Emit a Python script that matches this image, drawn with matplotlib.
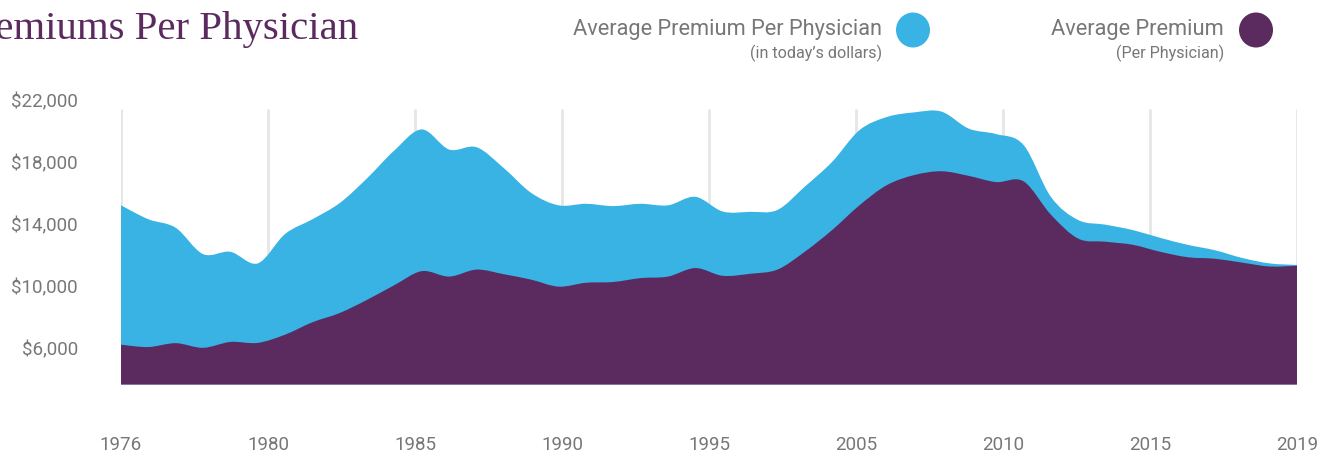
import matplotlib
matplotlib.use("Agg")
import matplotlib.pyplot as plt
from matplotlib.patches import Ellipse, PathPatch
from matplotlib.path import Path

# yearly values
years = list(range(1976, 2020))
adjusted = [15200, 14300, 13750, 12050, 12200, 11450, 13350, 14300, 15350, 16950,
            18750, 20100, 18800, 18950, 17600, 16000, 15200, 15300, 15150, 15300,
            15200, 15750, 14800, 14780, 14900, 16400, 18000, 20050, 20900, 21200,
            21250, 20150, 19800, 19100, 15750, 14250, 13950, 13600, 13100, 12650,
            12300, 11800, 11450, 11350]
nominal = [6200, 6050, 6300, 6000, 6380, 6320, 6850, 7650, 8250, 9100,
           10050, 10950, 10600, 11050, 10750, 10400, 9950, 10200, 10250, 10500,
           10600, 11150, 10650, 10780, 11050, 12200, 13600, 15200, 16500, 17150,
           17400, 17100, 16700, 16750, 14600, 13050, 12850, 12650, 12200, 11850,
           11750, 11500, 11250, 11300]
x_labels = ["1976", "1980", "1985", "1990", "1995", "2005", "2010", "2015", "2019"]
y_ticks = [6000, 10000, 14000, 18000, 22000]

BLUE = "#38b3e4"
PURPLE = "#5b2a5e"
GRAY = "#777777"
W, H = 1330, 455

plt.rcParams["font.family"] = ["Roboto", "DejaVu Sans"]


def smooth_area(ax, xs, ys, base, color, z):
    # area through the data points, drawn with cardinal bezier segments
    verts = [(xs[0], base), (xs[0], ys[0])]
    codes = [Path.MOVETO, Path.LINETO]
    n = len(xs)
    for i in range(n - 1):
        x0, y0 = xs[max(i - 1, 0)], ys[max(i - 1, 0)]
        x1, y1 = xs[i], ys[i]
        x2, y2 = xs[i + 1], ys[i + 1]
        x3, y3 = xs[min(i + 2, n - 1)], ys[min(i + 2, n - 1)]
        c1 = (x1 + (x2 - x0) / 6, y1 + (y2 - y0) / 6)
        c2 = (x2 - (x3 - x1) / 6, y2 - (y3 - y1) / 6)
        verts += [c1, c2, (x2, y2)]
        codes += [Path.CURVE4] * 3
    verts += [(xs[-1], base), (xs[0], base)]
    codes += [Path.LINETO, Path.CLOSEPOLY]
    ax.add_patch(PathPatch(Path(verts, codes), facecolor=color, lw=0, zorder=z))


fig = plt.figure(figsize=(W / 100, H / 100), dpi=100)
ax = fig.add_axes([121 / W, 70 / H, (1297 - 121) / W, 285 / H])

base = 3600
ax.set_xlim(years[0], years[-1])
ax.set_ylim(base, 22000)

# labels sit evenly spaced across the span, like the source
n = len(x_labels)
tick_pos = [years[0] + i * (years[-1] - years[0]) / (n - 1) for i in range(n)]
ax.vlines(tick_pos, base, 21420, color="#e6e6e6", lw=2, zorder=0)

smooth_area(ax, years, adjusted, base, BLUE, 1)
smooth_area(ax, years, nominal, base, PURPLE, 2)
ax.hlines(base, years[0], years[-1], color="#8f84b8", lw=1.2, zorder=3)

for s in ax.spines.values():
    s.set_visible(False)
ax.set_xticks(tick_pos)
ax.set_xticklabels(x_labels)
ax.set_yticks(y_ticks)
ax.set_yticklabels(["${:,}".format(v) for v in y_ticks])
ax.tick_params(axis="both", length=0, labelsize=13.5, labelcolor=GRAY)
ax.tick_params(axis="y", pad=31)
ax.tick_params(axis="x", pad=37)

# title, cut off at left edge like the reference
fig.text(358 / W, 1 - 39 / H, "Premiums Per Physician", ha="right", va="baseline",
         family="Liberation Serif", fontsize=29.4, color=PURPLE)


# legend
def legend_item(x_text, cx, label, sub, color):
    fig.text(x_text / W, 1 - 29 / H, label, ha="right", va="center",
             fontsize=15.7, color=GRAY)
    fig.text(x_text / W, 1 - 53 / H, sub, ha="right", va="center",
             fontsize=11.6, color=GRAY)
    fig.add_artist(Ellipse((cx / W, 1 - 30 / H), 34 / W, 35 / H,
                           transform=fig.transFigure, color=color, lw=0))


legend_item(882, 913, "Average Premium Per Physician", "(in today\u2019s dollars)", BLUE)
legend_item(1224, 1256, "Average Premium", "(Per Physician)", PURPLE)

fig.savefig("out.png", dpi=100)
